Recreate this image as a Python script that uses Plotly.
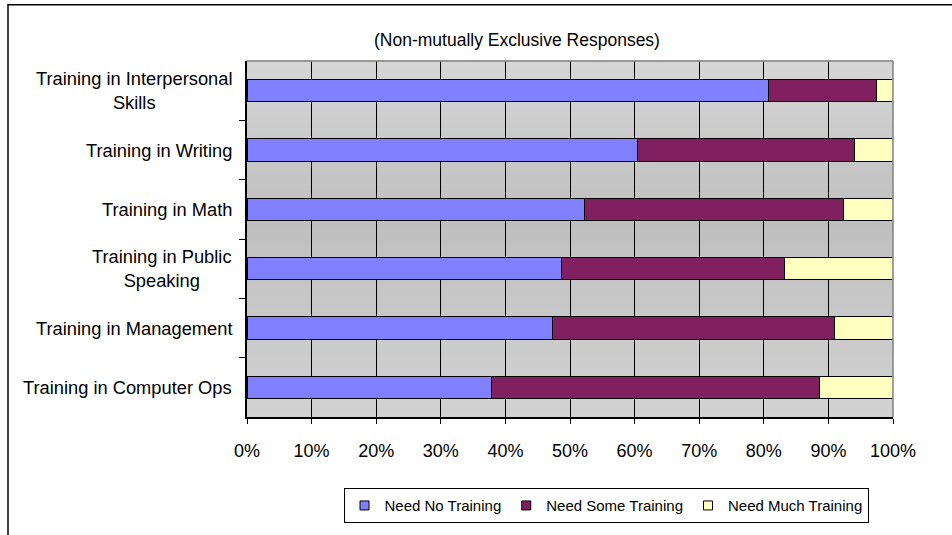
import plotly.graph_objects as go

# Training-need survey results, percent of respondents per category
categories = [
    "Training in Computer Ops",
    "Training in Management",
    "Training in Public<br>Speaking",
    "Training in Math",
    "Training in Writing",
    "Training in Interpersonal<br>Skills",
]
need_no = [37.8, 47.3, 48.7, 52.2, 60.4, 80.8]
need_some = [50.8, 43.7, 34.5, 40.2, 33.7, 16.6]
need_much = [11.4, 9.0, 16.8, 7.6, 5.9, 2.6]

series = [
    ("Need No Training", need_no, "#8080ff"),
    ("Need Some Training", need_some, "#802060"),
    ("Need Much Training", need_much, "#ffffc0"),
]

FONT = "Liberation Sans, Arial, sans-serif"

fig = go.Figure()
for name, vals, color in series:
    fig.add_trace(go.Bar(
        y=categories,
        x=[v / 100 for v in vals],
        name=name,
        orientation="h",
        width=0.38,
        showlegend=False,
        marker=dict(color=color, line=dict(color="black", width=1)),
    ))
# small square legend keys
for name, vals, color in series:
    fig.add_trace(go.Scatter(
        x=[None], y=[None], mode="markers", name=name,
        marker=dict(symbol="square", size=9, color=color,
                    line=dict(color="black", width=1)),
    ))

# vertical gradient in the plot area: light at top, darkest a little above middle
shapes = []
n = 60
def shade(t):
    # t = 0 at top, 1 at bottom
    if t < 0.45:
        a = t / 0.45
        v = 214 + (191 - 214) * a
    else:
        a = (t - 0.45) / 0.55
        v = 191 + (210 - 191) * a
    v = int(round(v))
    return f"rgb({v},{v},{v})"
for i in range(n):
    y1 = 1 - i / n
    y0 = 1 - (i + 1) / n
    shapes.append(dict(type="rect", xref="paper", yref="paper",
                       x0=0, x1=1, y0=y0, y1=y1 + 0.002,
                       fillcolor=shade((i + 0.5) / n), line=dict(width=0),
                       layer="below"))
# plot-area frame (gray top/right)
shapes.append(dict(type="line", xref="paper", yref="paper", x0=0, x1=1, y0=1, y1=1,
                   line=dict(color="#808080", width=1.5)))
shapes.append(dict(type="line", xref="paper", yref="paper", x0=1, x1=1, y0=0, y1=1,
                   line=dict(color="#808080", width=1.5)))
# outer chart frame
shapes.append(dict(type="rect", xref="paper", yref="paper",
                   x0=(8 - 247) / 646, x1=(960 - 247) / 646,
                   y0=(421 - 545) / 360, y1=(421 - 4) / 360,
                   line=dict(color="black", width=1.5), fillcolor="rgba(0,0,0,0)",
                   layer="below"))

annotations = [dict(
    text="(Non-mutually Exclusive Responses)",
    xref="paper", yref="paper", x=(517 - 247) / 646, y=(421 - 40) / 360,
    xanchor="center", yanchor="middle", showarrow=False,
    font=dict(family=FONT, size=17.5, color="black"),
)]
for c in categories:
    annotations.append(dict(
        text=c, xref="paper", yref="y", x=-13 / 646, y=c,
        xanchor="right", yanchor="middle", align="center", showarrow=False,
        font=dict(family=FONT, size=18.3, color="black"),
    ))

fig.update_layout(
    width=952, height=535,
    margin=dict(l=247, r=59, t=61, b=114),
    barmode="stack",
    paper_bgcolor="white",
    plot_bgcolor="#c8c8c8",
    shapes=shapes,
    annotations=annotations,
    font=dict(family=FONT, size=17.5, color="black"),
    xaxis=dict(
        range=[0, 1], tickvals=[i / 10 for i in range(11)],
        tickformat=".0%", showgrid=True, gridcolor="black", gridwidth=1,
        zeroline=False, showline=True, linecolor="black", linewidth=1.5,
        ticks="outside", ticklen=5, tickcolor="black",
        ticklabelstandoff=12,
        tickfont=dict(family=FONT, size=18, color="black"),
        fixedrange=True,
    ),
    yaxis=dict(
        categoryorder="array", categoryarray=categories,
        range=[-0.5, len(categories) - 0.5],
        showticklabels=False, showgrid=False, zeroline=False,
        showline=True, linecolor="black", linewidth=1.5,
        tickmode="array", tickvals=[i + 0.5 for i in range(len(categories) - 1)],
        ticks="outside", ticklen=6, tickcolor="black",
        fixedrange=True,
    ),
    legend=dict(
        orientation="h", xref="paper", yref="paper",
        x=(606 - 247) / 646, y=(421 - 493) / 360,
        xanchor="center", yanchor="top",
        bordercolor="black", borderwidth=1, bgcolor="white",
        font=dict(family=FONT, size=15, color="black"),
        itemwidth=30, traceorder="normal",
    ),
    showlegend=True,
)

fig.write_html("out.html")
